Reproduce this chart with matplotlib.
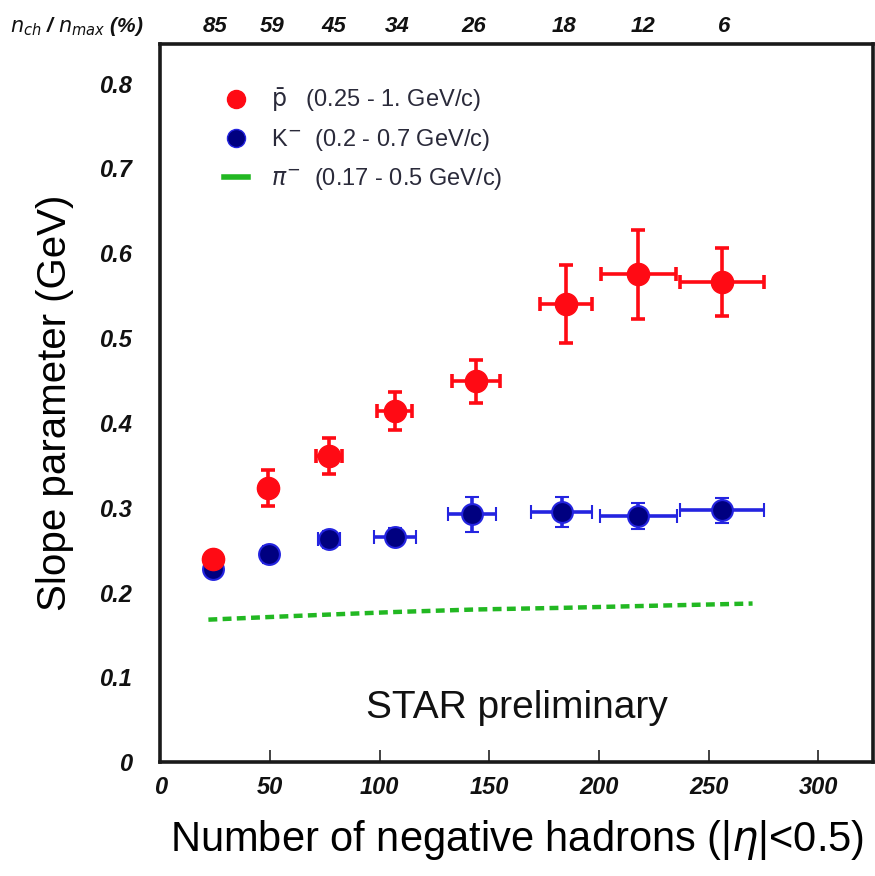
import matplotlib.pyplot as plt
from matplotlib.lines import Line2D
from matplotlib.ticker import MultipleLocator

# ==============================================================================
# p-bar slope parameters
pbar_n = [24, 49, 77, 107, 144, 185, 218, 256]
pbar_T = [0.240, 0.323, 0.361, 0.414, 0.449, 0.540, 0.575, 0.566]
pbar_dT = [0.006, 0.021, 0.021, 0.022, 0.025, 0.046, 0.052, 0.040]
pbar_dn = [2, 2, 6, 8, 11, 12, 17, 19]

# K- slope parameters
kmin_n = [24, 49.5, 77, 107, 142, 183, 218, 256]
kmin_T = [0.228, 0.245, 0.263, 0.266, 0.292, 0.295, 0.290, 0.297]
kmin_dT = [0.010, 0.010, 0.010, 0.010, 0.021, 0.018, 0.015, 0.015]
kmin_dn = [2, 2, 5, 9.5, 11, 14, 17.5, 19]

# pi- slope parameter (dashed line)
pi_n = [22, 49, 77, 107, 144, 185, 218, 270]
pi_T = [0.168, 0.171, 0.174, 0.177, 0.180, 0.182, 0.184, 0.187]

# top axis: centrality bins n_ch / n_max (%)
top_pos = [25, 51, 79, 108, 143, 184, 220, 257]
top_labels = ["85", "59", "45", "34", "26", "18", "12", "6"]
# ==============================================================================
plt.rcParams["font.family"] = ["Liberation Sans", "DejaVu Sans"]

red = "#ff0a14"
blue_face = "#000080"
blue_edge = "#2424e0"
green = "#22b822"

fig = plt.figure(figsize=(8.75, 8.76), dpi=100)
ax = fig.add_axes([0.183, 0.130, 0.815, 0.820])

ax.plot(pi_n, pi_T, linestyle=(0, (2.0, 1.2)), color=green, linewidth=3.2)

ax.errorbar(kmin_n, kmin_T, yerr=kmin_dT, xerr=kmin_dn, fmt="o",
            color=blue_edge, mfc=blue_face, mec=blue_edge, mew=1.5,
            markersize=15, elinewidth=2.6, capsize=5, capthick=2.6)

ax.errorbar(pbar_n, pbar_T, yerr=pbar_dT, xerr=pbar_dn, fmt="o",
            color=red, markersize=16, elinewidth=2.6, capsize=5,
            capthick=2.6)

ax.set_xlim(0, 325)
ax.set_ylim(0, 0.847)

ax.xaxis.set_major_locator(MultipleLocator(50))
ax.set_yticks([0, 0.1, 0.2, 0.3, 0.4, 0.5, 0.6, 0.7, 0.8])
ax.set_yticklabels(["0", "0.1", "0.2", "0.3", "0.4", "0.5", "0.6", "0.7", "0.8"])

for lab in ax.get_xticklabels() + ax.get_yticklabels():
    lab.set_fontweight("bold")
    lab.set_fontstyle("italic")
    lab.set_fontsize(17)

ax.tick_params(axis="x", direction="in", length=9, width=1.2, pad=10,
               top=True, colors="#222222", labelcolor="#111111")
ax.tick_params(axis="y", direction="in", length=0, pad=20,
               labelcolor="#111111")

for sp in ax.spines.values():
    sp.set_linewidth(2.6)
    sp.set_color("#1a1a1a")

# top axis labels with centrality percentages
ax_top = ax.twiny()
ax_top.set_xlim(ax.get_xlim())
ax_top.set_xticks(top_pos)
ax_top.set_xticklabels(top_labels, fontsize=16, fontweight="bold",
                       fontstyle="italic", color="#111111")
ax_top.tick_params(axis="x", length=0, pad=5)
for sp in ax_top.spines.values():
    sp.set_visible(False)

fig.text(0.012, 0.970, r"$\mathit{n_{ch}}$ / $\mathit{n_{max}}$ (%)",
         fontsize=15, fontweight="bold", fontstyle="italic", va="center",
         color="#111111")

ax.set_xlabel(r"Number of negative hadrons (|$\eta$|<0.5)", fontsize=30,
              labelpad=14)
ax.set_ylabel("Slope parameter (GeV)", fontsize=29, labelpad=18)

ax.text(0.5, 0.075, "STAR preliminary", transform=ax.transAxes,
        fontsize=28, ha="center", va="center", color="#111111")

handles = [
    Line2D([], [], marker="o", color=red, linestyle="none", markersize=13),
    Line2D([], [], marker="o", mfc=blue_face, mec=blue_edge, linestyle="none",
           markersize=13),
    Line2D([], [], color=green, linewidth=4),
]
labels = [r"$\bar{\rm p}$   (0.25 - 1. GeV/c)",
          r"K$^{-}$  (0.2 - 0.7 GeV/c)",
          r"$\pi^{-}$  (0.17 - 0.5 GeV/c)"]
leg = ax.legend(handles, labels, loc="upper left", bbox_to_anchor=(0.06, 0.97),
                frameon=False, fontsize=17, handlelength=1.0,
                handletextpad=1.0, labelspacing=0.55)
for t in leg.get_texts():
    t.set_color("#2a2a3a")

plt.savefig("out.png", dpi=100)
